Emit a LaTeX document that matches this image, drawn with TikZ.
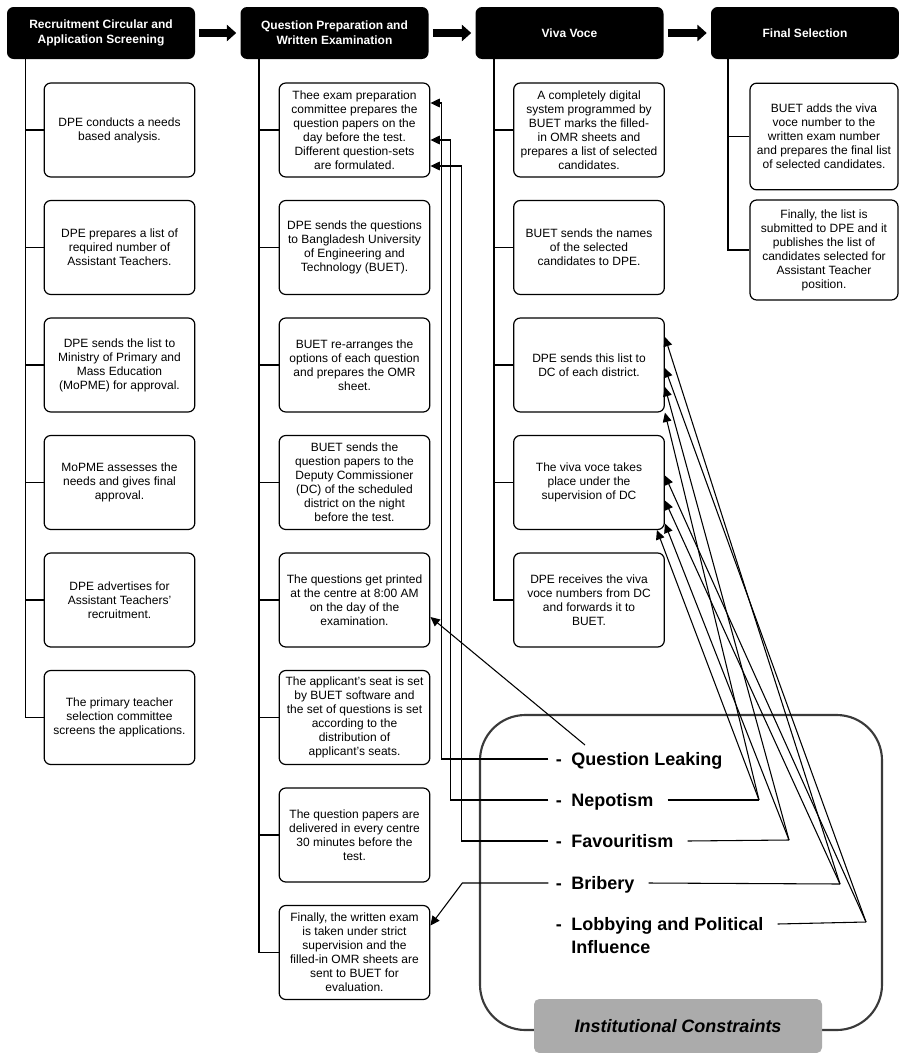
\documentclass[tikz,border=0pt]{standalone}
\usepackage{fontspec}
\setmainfont{Liberation Sans}
\usetikzlibrary{arrows.meta}
\definecolor{panel}{HTML}{ABABAB}
\definecolor{frameline}{HTML}{3A3A3A}
\begin{document}
\begin{tikzpicture}[x=0.75pt,y=-0.75pt,
  head/.style={fill=black,text=white,rounded corners=5pt,minimum width=141pt,minimum height=39pt,align=center,font=\fontsize{9}{11}\selectfont\bfseries},
  card/.style={draw,line width=0.9pt,rounded corners=5pt,minimum width=113pt,minimum height=70.5pt,align=center,inner sep=1pt,font=\fontsize{9}{10.5}\selectfont},
  item/.style={anchor=base west,inner sep=0pt,align=left,font=\fontsize{13.5}{17}\selectfont\bfseries},
  fwd/.style={line width=5.5pt,-{Triangle[length=7pt,width=12pt]},shorten <=3pt,shorten >=3pt},
  tip/.style={line width=0.8pt,-{Triangle[length=7pt,width=6.5pt]}}]
\useasboundingbox (0,0) rectangle (899,1053);
\node[head] (hr) at (101,33) {Recruitment Circular and\\Application Screening};
\node[head] (hq) at (334.5,33) {Question Preparation and\\Written Examination};
\node[head] (hv) at (569.5,33) {Viva Voce};
\node[head] (hf) at (805,33) {Final Selection};
\draw[fwd] (hr.east) -- (hq.west);
\draw[fwd] (hq.east) -- (hv.west);
\draw[fwd] (hv.east) -- (hf.west);
% recruitment
\node[card] (r1) at (119.5,130) {DPE conducts a needs\\based analysis.};
\node[card] (r2) at (119.5,247.5) {DPE prepares a list of\\required number of\\Assistant Teachers.};
\node[card] (r3) at (119.5,365) {DPE sends the list to\\Ministry of Primary and\\Mass Education\\(MoPME) for approval.};
\node[card] (r4) at (119.5,482.5) {MoPME assesses the\\needs and gives final\\approval.};
\node[card] (r5) at (119.5,600) {DPE advertises for\\Assistant Teachers'\\recruitment.};
\node[card] (r6) at (119.5,717.5) {The primary teacher\\selection committee\\screens the applications.};
% question preparation
\node[card] (q1) at (354.5,130) {Thee exam preparation\\committee prepares the\\question papers on the\\day before the test.\\Different question-sets\\are formulated.};
\node[card] (q2) at (354.5,247.5) {DPE sends the questions\\to Bangladesh University\\of Engineering and\\Technology (BUET).};
\node[card] (q3) at (354.5,365) {BUET re-arranges the\\options of each question\\and prepares the OMR\\sheet.};
\node[card] (q4) at (354.5,482.5) {BUET sends the\\question papers to the\\Deputy Commissioner\\(DC) of the scheduled\\district on the night\\before the test.};
\node[card] (q5) at (354.5,600) {The questions get printed\\at the centre at 8:00 AM\\on the day of the\\examination.};
\node[card] (q6) at (354.5,717.5) {The applicant's seat is set\\by BUET software and\\the set of questions is set\\according to the\\distribution of\\applicant's seats.};
\node[card] (q7) at (354.5,835) {The question papers are\\delivered in every centre\\30 minutes before the\\test.};
\node[card] (q8) at (354.5,952.5) {Finally, the written exam\\is taken under strict\\supervision and the\\filled-in OMR sheets are\\sent to BUET for\\evaluation.};
% viva voce
\node[card] (v1) at (589,130) {A completely digital\\system programmed by\\BUET marks the filled-\\in OMR sheets and\\prepares a list of selected\\candidates.};
\node[card] (v2) at (589,247.5) {BUET sends the names\\of the selected\\candidates to DPE.};
\node[card] (v3) at (589,365) {DPE sends this list to\\DC of each district.};
\node[card] (v4) at (589,482.5) {The viva voce takes\\place under the\\supervision of DC};
\node[card] (v5) at (589,600) {DPE receives the viva\\voce numbers from DC\\and forwards it to\\BUET.};
% final selection
\node[card,minimum width=111pt,minimum height=80pt] (f1) at (824,136.5) {BUET adds the viva\\voce number to the\\written exam number\\and prepares the final list\\of selected candidates.};
\node[card,minimum width=111pt,minimum height=75pt] (f2) at (824,250) {Finally, the list is\\submitted to DPE and it\\publishes the  list of\\candidates selected for\\Assistant Teacher\\position.};
\foreach \i in {1,...,6} \draw[line width=0.9pt] ([xshift=14pt]hr.south west) |- (r\i.west);
\foreach \i in {1,...,8} \draw[line width=0.9pt] ([xshift=14pt]hq.south west) |- (q\i.west);
\foreach \i in {1,...,5} \draw[line width=0.9pt] ([xshift=14pt]hv.south west) |- (v\i.west);
\foreach \i in {1,2} \draw[line width=0.9pt] ([xshift=13pt]hf.south west) |- (f\i.west);
% constraints
\node[draw=frameline,line width=1.6pt,rounded corners=34pt,minimum width=301.5pt,minimum height=236.25pt] (frame) at (681,872.5) {};
\node[fill=panel,rounded corners=4pt,minimum width=216pt,minimum height=40.5pt,font=\fontsize{13.5}{16}\selectfont\bfseries\itshape] (inst) at (678,1026) {Institutional Constraints};
\node[item] (leak) at (571,765) {\llap{-\hspace{7pt}}Question Leaking};
\node[item] (nep) at (571,806) {\llap{-\hspace{7pt}}Nepotism};
\node[item] (fav) at (571,847) {\llap{-\hspace{7pt}}Favouritism};
\node[item] (brib) at (571,889) {\llap{-\hspace{7pt}}Bribery};
\node[item] (lobb) at (571,953) {\llap{-\hspace{7pt}}Lobbying and Political\\Influence};
\coordinate (nepR) at (759,800);
\coordinate (favR) at (789,840);
\coordinate (bribR) at (840,884);
\coordinate (lobbR) at (866,922);
\draw[tip] ([xshift=-17pt,yshift=4.5pt]leak.base west) -| ([xshift=8.25pt,yshift=20.25pt]q1.east) -- ([yshift=20.25pt]q1.east);
\draw[tip] ([xshift=-17pt,yshift=4.5pt]nep.base west) -| ([xshift=15pt,yshift=-7.5pt]q1.east) -- ([yshift=-7.5pt]q1.east);
\draw[tip] ([xshift=-17pt,yshift=4.5pt]fav.base west) -| ([xshift=23.25pt,yshift=-27pt]q1.east) -- ([yshift=-27pt]q1.east);
\draw[tip] ([xshift=-17pt,yshift=4.5pt]brib.base west) -- ++(-86,0) -- ([yshift=20.25pt]q8.east);
\draw[tip] ([xshift=10.5pt,yshift=15pt]leak.base west) -- ([yshift=-12.75pt]q5.east);
\draw[line width=0.8pt] ([xshift=10.5pt,yshift=4.5pt]nep.base east) -- (nepR);
\draw[line width=0.8pt] ([xshift=10.5pt,yshift=4.5pt]fav.base east) -- (favR);
\draw[line width=0.8pt] ([xshift=10.5pt,yshift=4.5pt]brib.base east) -- (bribR);
\draw[line width=0.8pt] ([xshift=10.5pt,yshift=21.75pt]lobb.base east) -- (lobbR);
\draw[tip] (nepR) -- (v3.south east);
\draw[tip] (nepR) -- ([xshift=-6pt]v4.south east);
\draw[tip] (favR) -- ([yshift=-16.5pt]v3.east);
\draw[tip] (favR) -- ([yshift=-30.75pt]v4.east);
\draw[tip] (bribR) -- ([yshift=21pt]v3.east);
\draw[tip] (bribR) -- ([yshift=-13.5pt]v4.east);
\draw[tip] (lobbR) -- ([yshift=-2.25pt]v3.east);
\draw[tip] (lobbR) -- ([yshift=5.25pt]v4.east);
\end{tikzpicture}
\end{document}
